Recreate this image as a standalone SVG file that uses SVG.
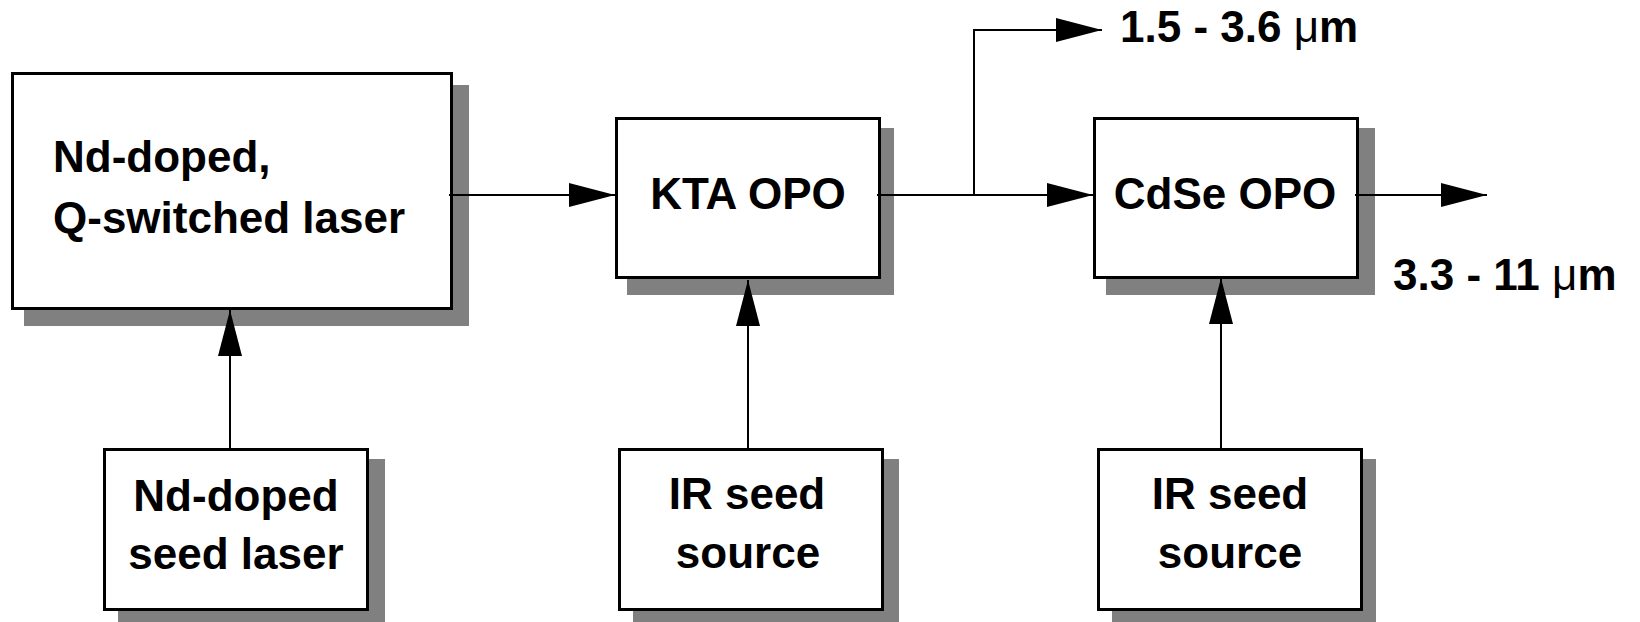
<svg xmlns="http://www.w3.org/2000/svg" width="1640" height="622" viewBox="0 0 1640 622">
<style>
.shadow{fill:#808080;stroke:none}
.box{fill:#ffffff;stroke:#000000;stroke-width:3}
.t{font-family:"Liberation Sans",Arial,sans-serif;font-weight:bold;font-size:44px;fill:#000000}
.c{text-anchor:middle}
.wire{fill:none;stroke:#000000;stroke-width:2}
.mu{font-weight:normal}
</style>
<defs>
<marker id="arr" markerUnits="userSpaceOnUse" markerWidth="48" markerHeight="26" refX="46" refY="12" orient="auto" viewBox="0 0 48 26" overflow="visible">
<path d="M0,0 L46,12 L0,24 Z" fill="#000000"/>
</marker>
</defs>
<rect width="1640" height="622" fill="#ffffff"/>

<g id="node-qswitched-laser">
<rect class="shadow" x="24" y="85" width="445" height="241"/>
<rect class="box" x="12.5" y="73.5" width="439" height="235"/>
<text class="t" x="53" y="172">Nd-doped,</text>
<text class="t" x="53" y="233">Q-switched laser</text>
</g>

<g id="node-kta-opo">
<rect class="shadow" x="627" y="128" width="267" height="167"/>
<rect class="box" x="616.5" y="118.5" width="263" height="159"/>
<text class="t c" x="748" y="209">KTA OPO</text>
</g>

<g id="node-cdse-opo">
<rect class="shadow" x="1106" y="128" width="269" height="167"/>
<rect class="box" x="1094.5" y="118.5" width="263" height="159"/>
<text class="t c" x="1225" y="209">CdSe OPO</text>
</g>

<g id="node-nd-seed">
<rect class="shadow" x="118" y="459" width="267" height="170"/>
<rect class="box" x="104.5" y="449.5" width="263" height="160"/>
<text class="t c" x="236" y="511">Nd-doped</text>
<text class="t c" x="236" y="569">seed laser</text>
</g>

<g id="node-ir-seed-1">
<rect class="shadow" x="633" y="459" width="266" height="170"/>
<rect class="box" x="619.5" y="449.5" width="263" height="160"/>
<text class="t c" x="747" y="509">IR seed</text>
<text class="t c" x="748" y="568">source</text>
</g>

<g id="node-ir-seed-2">
<rect class="shadow" x="1112" y="459" width="264" height="170"/>
<rect class="box" x="1098.5" y="449.5" width="263" height="160"/>
<text class="t c" x="1230" y="509">IR seed</text>
<text class="t c" x="1230" y="568">source</text>
</g>

<g id="connectors">
<line class="wire" x1="449" y1="195" x2="615" y2="195" marker-end="url(#arr)"/>
<line class="wire" x1="877" y1="195" x2="1093" y2="195" marker-end="url(#arr)"/>
<polyline class="wire" points="974,195 974,30 1102,30" marker-end="url(#arr)"/>
<line class="wire" x1="1355" y1="195" x2="1487" y2="195" marker-end="url(#arr)"/>
<line class="wire" x1="230" y1="448" x2="230" y2="310" marker-end="url(#arr)"/>
<line class="wire" x1="748" y1="448" x2="748" y2="280" marker-end="url(#arr)"/>
<line class="wire" x1="1221" y1="448" x2="1221" y2="278" marker-end="url(#arr)"/>
<text class="t" x="1120" y="42">1.5 - 3.6 <tspan class="mu">μ</tspan>m</text>
<text class="t" x="1393" y="290">3.3 - 11 <tspan class="mu">μ</tspan>m</text>
</g>
</svg>
